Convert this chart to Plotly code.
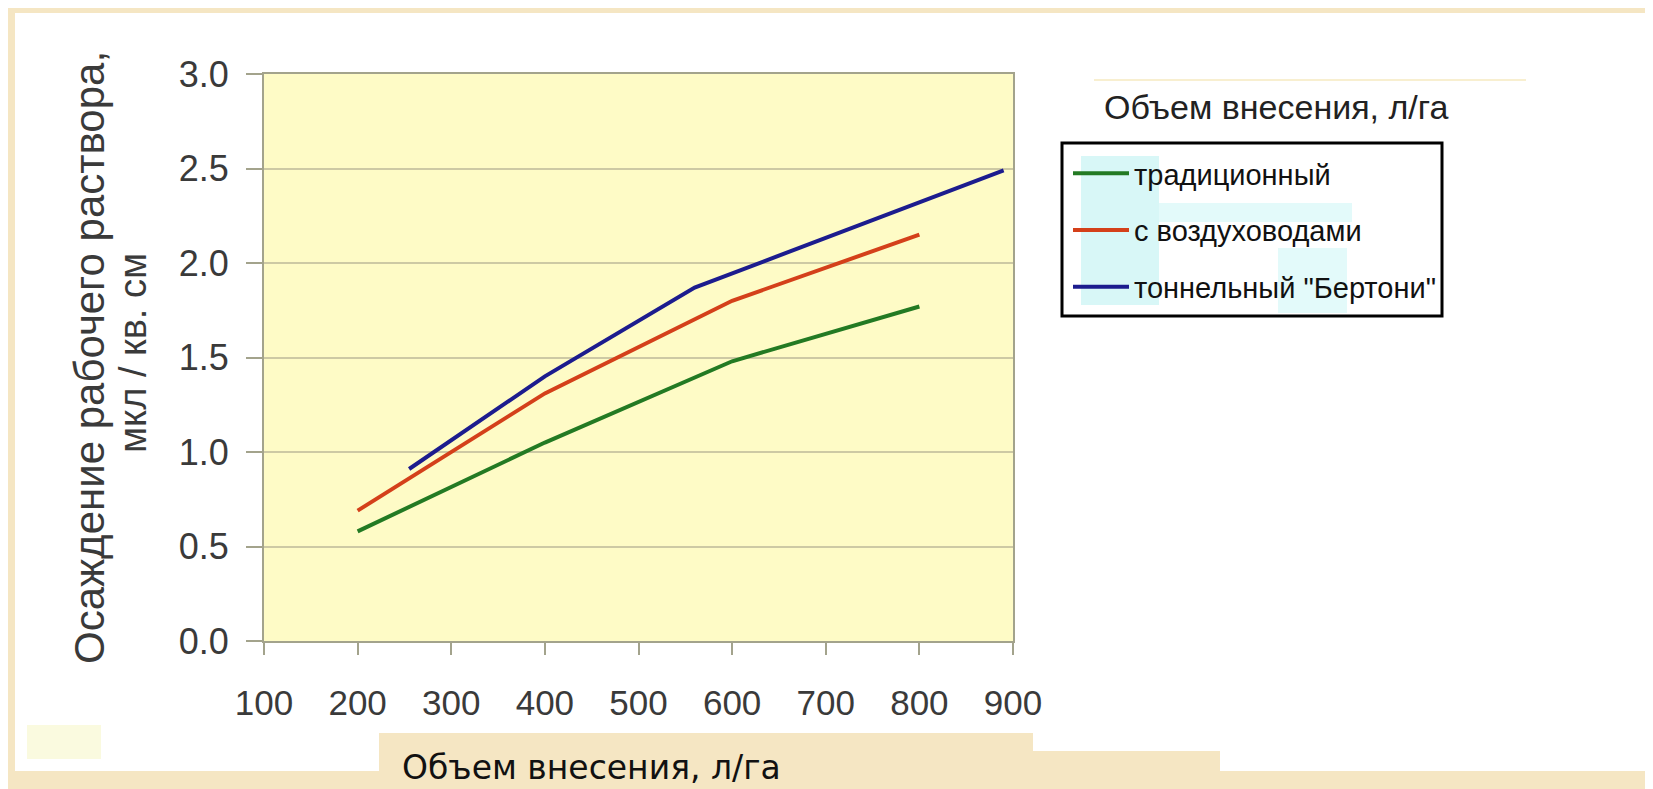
import plotly.graph_objects as go

# ---------------- data ----------------
series_names = ["традиционный", "с воздуховодами", "тоннельный \"Бертони\""]
x_trad = [200, 400, 600, 800]
y_trad = [0.58, 1.05, 1.48, 1.77]
x_air = [200, 400, 600, 800]
y_air = [0.69, 1.31, 1.80, 2.15]
x_tunnel = [255, 400, 560, 890]
y_tunnel = [0.91, 1.40, 1.87, 2.49]
x_ticks = [100, 200, 300, 400, 500, 600, 700, 800, 900]
y_ticks = [0.0, 0.5, 1.0, 1.5, 2.0, 2.5, 3.0]
x_title = "Объем внесения, л/га"
y_title_1 = "Осаждение рабочего раствора,"
y_title_2 = "мкл / кв. см"
legend_title = "Объем внесения, л/га"

colors = ["#237a23", "#d4401a", "#1c1c8e"]

# ---------------- layout geometry (pixels) ----------------
W, H = 1653, 789
L, R, T, B = 256, 1005, 66, 633


def px(xp):
    return (xp - L) / (R - L)


def py(yp):
    return (B - yp) / (B - T)


fig = go.Figure()
for i, (xs, ys) in enumerate([(x_trad, y_trad), (x_air, y_air), (x_tunnel, y_tunnel)]):
    fig.add_trace(go.Scatter(
        x=xs, y=ys, mode="lines", name=series_names[i],
        legendgroup=f"g{i}",
        line=dict(color=colors[i], width=4),
    ))

beige = "#f5e6c3"
shapes = []


def rect(x0, y0, x1, y1, fill, line_color=None, lw=0, layer="above"):
    shapes.append(dict(
        type="rect", xref="paper", yref="paper",
        x0=px(x0), x1=px(x1), y0=py(y1), y1=py(y0),
        fillcolor=fill, line=dict(color=line_color or fill, width=lw),
        layer=layer,
    ))


# parchment frame around white panel
rect(0, 0, W, 5, beige)
rect(0, 0, 7, H, beige)
rect(0, 763, W, H, beige)
rect(371, 725, 1025, H, beige)
rect(1025, 743, 1212, H, beige)
# faint yellow artefact bottom-left
rect(19, 717, 93, 751, "#fafadf")
# faint line above legend title
shapes.append(dict(type="line", xref="paper", yref="paper",
                   x0=px(1086), x1=px(1518), y0=py(72), y1=py(72),
                   line=dict(color="#f8efd0", width=2)))
# legend box
rect(1054, 135, 1434, 308, "white", "black", 3)
# cyan highlights inside legend
rect(1073, 148, 1151, 297, "#d8f7f7")
rect(1151, 195, 1344, 214, "#e3fafa")
rect(1270, 240, 1339, 305, "#e3fafa")

annotations = [
    dict(text=y_title_1, xref="paper", yref="paper", x=px(81), y=py(350),
         xanchor="center", yanchor="middle", textangle=-90, showarrow=False,
         font=dict(family="Liberation Sans, Arial", size=42, color="#3a3a3a")),
    dict(text=y_title_2, xref="paper", yref="paper", x=px(125), y=py(345),
         xanchor="center", yanchor="middle", textangle=-90, showarrow=False,
         font=dict(family="Liberation Sans, Arial", size=38, color="#3a3a3a")),
    dict(text=x_title, xref="paper", yref="paper", x=px(583), y=py(759),
         xanchor="center", yanchor="middle", showarrow=False,
         font=dict(family="DejaVu Sans", size=33, color="#111111")),
    dict(text=legend_title, xref="paper", yref="paper", x=px(1268), y=py(99),
         xanchor="center", yanchor="middle", showarrow=False,
         font=dict(family="Liberation Sans, Arial", size=34, color="#222222")),
]

axis_common = dict(
    showline=True, linecolor="#a3a38c", linewidth=2, mirror=True,
    ticks="outside", tickcolor="#a3a38c", tickwidth=2,
    zeroline=False,
)

fig.update_layout(
    width=W, height=H, autosize=False,
    margin=dict(l=L, r=W - R, t=T, b=H - B, pad=0),
    paper_bgcolor="white",
    plot_bgcolor="#fefbc6",
    showlegend=True,
    legend=dict(
        x=px(1060), y=py(140), xanchor="left", yanchor="top",
        bgcolor="rgba(0,0,0,0)", borderwidth=0,
        font=dict(family="Liberation Sans, Arial", size=29, color="#111111"),
        tracegroupgap=16, itemwidth=56,
    ),
    xaxis=dict(
        range=[100, 900], tickvals=x_ticks, ticktext=[str(v) for v in x_ticks],
        ticklen=12, showgrid=False, ticklabelstandoff=18,
        tickfont=dict(family="Liberation Sans, Arial", size=35, color="#3a3a3a"),
        **axis_common,
    ),
    yaxis=dict(
        range=[0, 3], tickvals=y_ticks, tickformat=".1f",
        ticklen=16, showgrid=True, gridcolor="#cdc9a4", gridwidth=1.5,
        ticklabelstandoff=10,
        tickfont=dict(family="Liberation Sans, Arial", size=36, color="#3a3a3a"),
        **axis_common,
    ),
    shapes=shapes,
    annotations=annotations,
)

fig.write_html("out.html")
